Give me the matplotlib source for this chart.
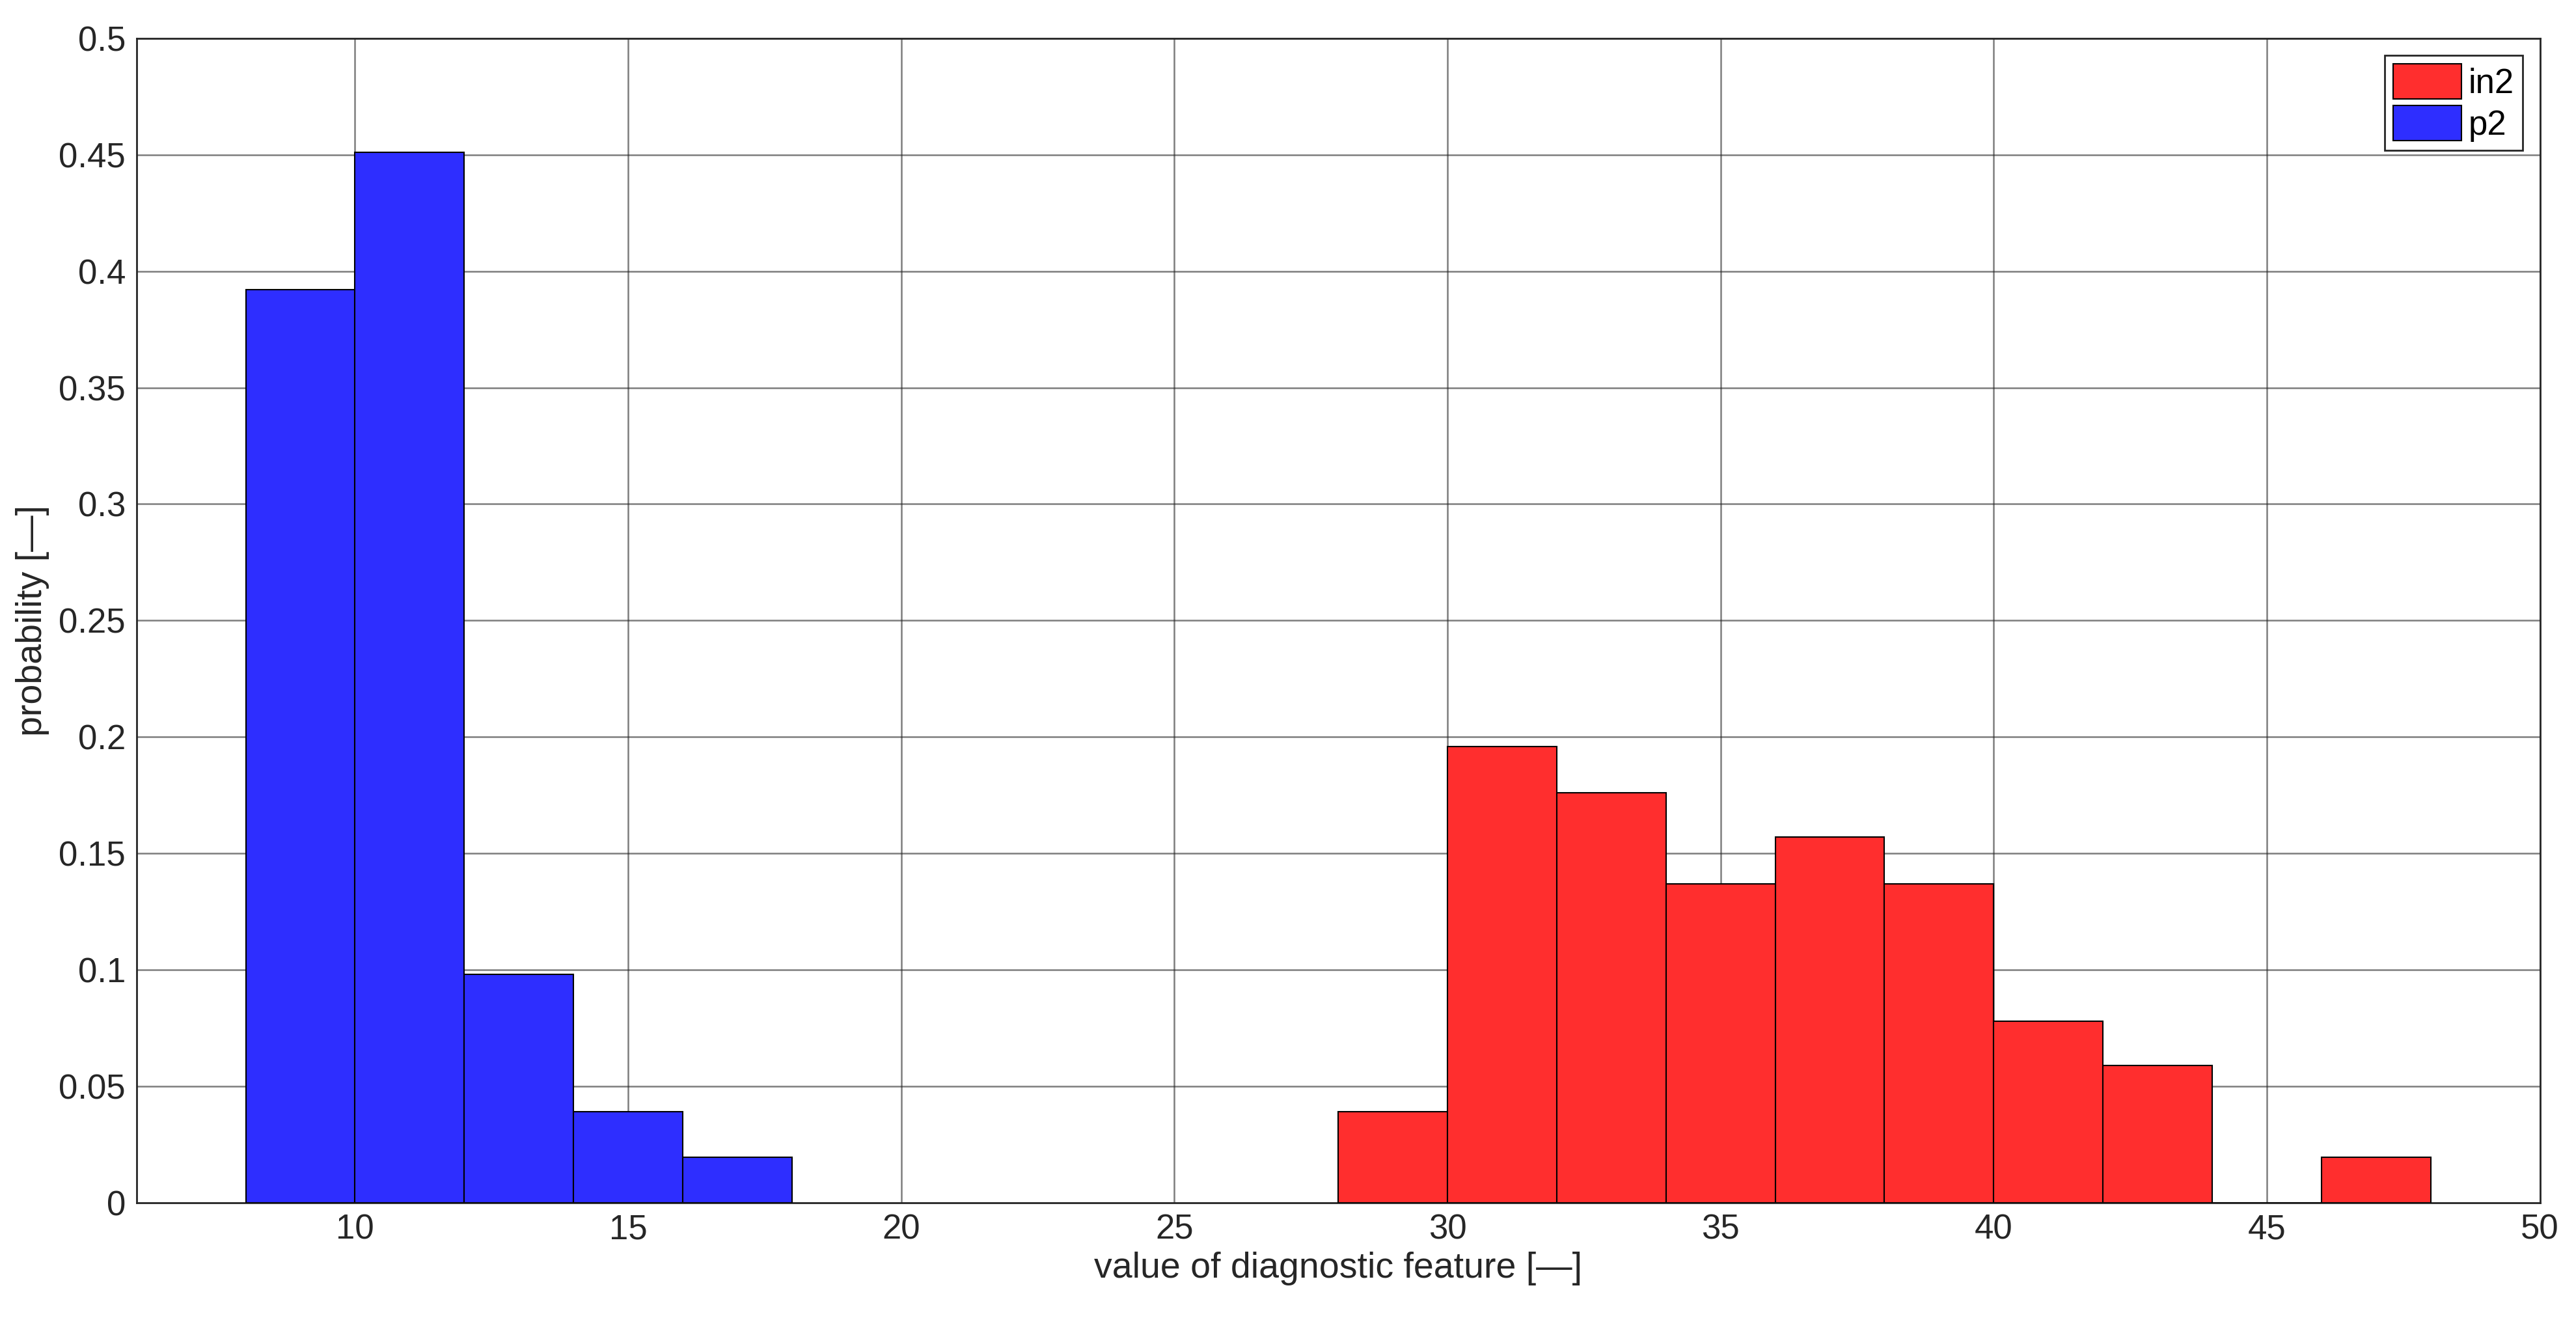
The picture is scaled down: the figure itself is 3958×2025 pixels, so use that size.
import matplotlib
matplotlib.use("Agg")
import matplotlib.pyplot as plt
import numpy as np

plt.rcParams['font.family'] = ['Liberation Sans', 'DejaVu Sans']

p2_edges = [8, 10, 12, 14, 16, 18]
p2_vals = [0.392, 0.451, 0.098, 0.039, 0.0196]
in2_edges = [28, 30, 32, 34, 36, 38, 40, 42, 44, 46, 48]
in2_vals = [0.039, 0.196, 0.176, 0.137, 0.157, 0.137, 0.078, 0.059, 0.0, 0.0196]

fig = plt.figure(figsize=(39.58, 20.25), dpi=100)
ax = fig.add_axes([0.053, 0.0874, 0.933, 0.8836])

def draw(edges, vals, color, label):
    e = np.array(edges)
    return ax.bar(e[:-1], vals, width=np.diff(e), align='edge', color=color,
                  edgecolor='black', linewidth=1.5, label=label, zorder=3)

draw(in2_edges, in2_vals, (1, 0.18, 0.18), 'in2')
draw(p2_edges, p2_vals, (0.18, 0.18, 1), 'p2')

ax.set_xlim(6, 50)
ax.set_ylim(0, 0.5)
ax.set_xticks(np.arange(10, 51, 5))
ax.set_yticks(np.arange(0, 0.51, 0.05))
ax.set_yticklabels(['0', '0.05', '0.1', '0.15', '0.2', '0.25', '0.3', '0.35', '0.4', '0.45', '0.5'])
ax.tick_params(labelsize=38, length=0, pad=12, colors='#262626')
ax.grid(True, color='#262626', alpha=0.6, linewidth=1.8, zorder=0)
ax.set_axisbelow(False)
for s in ax.spines.values():
    s.set_linewidth(2)
    s.set_color('#262626')
ax.set_xlabel('value of diagnostic feature [—]', fontsize=40, color='#262626', labelpad=6)
ax.set_ylabel('probability [—]', fontsize=40, color='#262626', labelpad=10)
leg = ax.legend(loc='upper right', fontsize=38, fancybox=False, framealpha=1,
                edgecolor='#262626', handlelength=2.0, handleheight=1.2,
                handletextpad=0.2, borderpad=0.25, labelspacing=0.15, borderaxespad=0.5)
leg.get_frame().set_linewidth(2)
fig.savefig('out.png', dpi=100)
